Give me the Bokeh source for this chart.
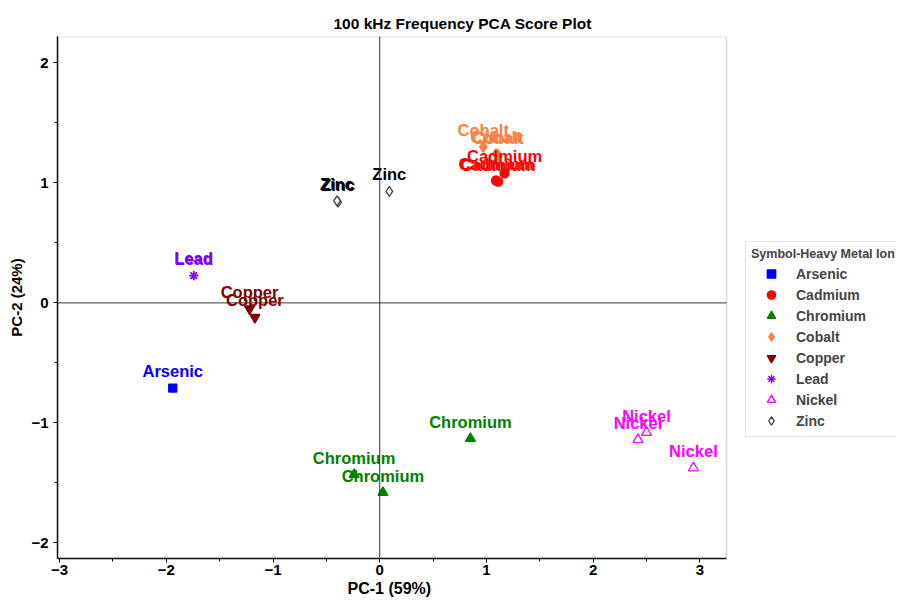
from bokeh.plotting import figure
from bokeh.models import (ColumnDataSource, Legend, LegendItem, Span, FixedTicker, Range1d,
                          BoxAnnotation, Title)
from bokeh.core.properties import value
from bokeh.embed import file_html
from bokeh.resources import INLINE

# ---- data (PC scores) ----
metals = ["Arsenic", "Cadmium", "Chromium", "Cobalt", "Copper", "Lead", "Nickel", "Zinc"]
arsenic_pc1 = [-1.94]
arsenic_pc2 = [-0.71]
cadmium_pc1 = [1.17, 1.09, 1.11]
cadmium_pc2 = [1.08, 1.02, 1.01]
chromium_pc1 = [0.85, -0.24, 0.03]
chromium_pc2 = [-1.13, -1.43, -1.58]
cobalt_pc1 = [0.97, 1.09, 1.11]
cobalt_pc2 = [1.30, 1.24, 1.23]
copper_pc1 = [-1.22, -1.17]
copper_pc2 = [-0.05, -0.12]
lead_pc1 = [-1.74, -1.745]
lead_pc2 = [0.225, 0.23]
nickel_pc1 = [2.42, 2.50, 2.94]
nickel_pc2 = [-1.14, -1.08, -1.375]
zinc_pc1 = [-0.39, -0.40, 0.09]
zinc_pc2 = [0.84, 0.85, 0.93]

x_ticks = [-3, -2, -1, 0, 1, 2, 3]
y_ticks = [-2, -1, 0, 1, 2]

pc1 = dict(Arsenic=arsenic_pc1, Cadmium=cadmium_pc1, Chromium=chromium_pc1, Cobalt=cobalt_pc1,
           Copper=copper_pc1, Lead=lead_pc1, Nickel=nickel_pc1, Zinc=zinc_pc1)
pc2 = dict(Arsenic=arsenic_pc2, Cadmium=cadmium_pc2, Chromium=chromium_pc2, Cobalt=cobalt_pc2,
           Copper=copper_pc2, Lead=lead_pc2, Nickel=nickel_pc2, Zinc=zinc_pc2)

style = {
    "Arsenic":  dict(marker="square", size=8, fill_color="#0000FF", line_color="#0000FF", text="#0000FF"),
    "Cadmium":  dict(marker="circle", size=9, fill_color="#FF0000", line_color="#FF0000", text="#FF0000"),
    "Chromium": dict(marker="triangle", size=10, fill_color="#008000", line_color="#008000", text="#008000"),
    "Cobalt":   dict(marker="diamond", size=11, fill_color="#FF8040", line_color="#FF8040", text="#FF8040"),
    "Copper":   dict(marker="inverted_triangle", size=10, fill_color="#800000", line_color="#800000", text="#800000"),
    "Lead":     dict(marker="asterisk", size=9, fill_color="#8000FF", line_color="#8000FF", text="#8000FF"),
    "Nickel":   dict(marker="triangle", size=10, fill_color="white", line_color="#FF00FF", text="#FF00FF"),
    "Zinc":     dict(marker="diamond", size=10, fill_color="white", line_color="#404040", text="#000000"),
}

FONT = "Liberation Sans"

# plotting box spans X_LO..X_HI; the frame is widened to the right to host the legend
X_LO, X_HI = -3.02, 3.25
Y_LO, Y_HI = -2.13, 2.22
BOX_PX, FRAME_PX = 669, 839
x_end = X_LO + (X_HI - X_LO) * FRAME_PX / BOX_PX

p = figure(width=896, height=597, x_range=Range1d(X_LO, x_end), y_range=Range1d(Y_LO, Y_HI),
           output_backend="svg", toolbar_location=None,
           min_border_left=57, min_border_right=0, min_border_top=36, min_border_bottom=39,
           background_fill_color="white", border_fill_color="white")

p.title.text = "100 kHz Frequency PCA Score Plot"
p.title.align = "left"
p.title.offset = 276
p.title.text_font = FONT
p.title.text_font_style = "bold"
p.title.text_font_size = "15.5px"
p.title.text_color = "black"
p.title.standoff = 9

p.xgrid.visible = False
p.ygrid.visible = False
p.outline_line_color = None

for ax in (p.xaxis[0], p.yaxis[0]):
    ax.axis_line_color = "black"
    ax.axis_line_width = 1.5
    ax.major_tick_line_color = "black"
    ax.minor_tick_line_color = "black"
    ax.major_tick_in = 0
    ax.major_tick_out = 4
    ax.minor_tick_in = 0
    ax.minor_tick_out = 3
    ax.major_label_text_font = FONT
    ax.major_label_text_font_style = "bold"
    ax.major_label_text_font_size = "15px"
    ax.major_label_text_color = "black"
    ax.axis_label_text_font = FONT
    ax.axis_label_text_font_style = "bold"
    ax.axis_label_text_color = "black"

p.xaxis.bounds = (X_LO, X_HI)
p.xaxis.ticker = FixedTicker(ticks=x_ticks,
                             minor_ticks=[t + 0.5 for t in x_ticks if t + 0.5 < X_HI])
p.yaxis.ticker = FixedTicker(ticks=y_ticks, minor_ticks=[t + 0.5 for t in y_ticks] + [-2.5])
p.yaxis.axis_label = "PC-2 (24%)"
p.yaxis.axis_label_text_font_size = "15px"
p.xaxis.major_label_standoff = 2
p.yaxis.major_label_standoff = 5
p.yaxis.axis_label_standoff = 3

xlabel = Title(text="PC-1 (59%)", align="left", offset=290, text_font=FONT,
               text_font_style="bold", text_font_size="16px", text_color="black", standoff=0)
p.add_layout(xlabel, "below")

# plot box border (top/right in grey) and the zero reference lines
p.add_layout(BoxAnnotation(left=X_LO, right=X_HI, fill_alpha=0, fill_color=None,
                           line_color="#808080", line_width=1.5))
p.add_layout(Span(location=0, dimension="height", line_color="#333333", line_width=1))
p.segment(x0=[X_LO], y0=[0], x1=[X_HI], y1=[0], line_color="#333333", line_width=1)

renderers = {}
sources = {}
for m in metals:
    st = style[m]
    src = ColumnDataSource(dict(x=pc1[m], y=pc2[m], label=[m] * len(pc1[m])))
    sources[m] = src
    renderers[m] = p.scatter("x", "y", source=src, marker=st["marker"], size=st["size"],
                             fill_color=st["fill_color"], line_color=st["line_color"],
                             line_width=1.3)

for m in metals:
    p.text("x", "y", text="label", source=sources[m], text_align="center",
           text_baseline="alphabetic", y_offset=-17, text_color=style[m]["text"],
           text_font=value(FONT), text_font_style="bold", text_font_size="16.5px")

legend = Legend(items=[LegendItem(label=m, renderers=[renderers[m]]) for m in metals],
                location=(688, 121), title="Symbol-Heavy Metal Ion",
                title_text_font=FONT, title_text_font_style="bold", title_text_font_size="12.5px",
                title_standoff=2,
                label_text_font=FONT, label_text_font_style="bold", label_text_font_size="14px",
                label_height=21, glyph_height=21, glyph_width=40, spacing=0, padding=5,
                label_standoff=5, label_width=150, margin=0,
                border_line_color="#C8C8C8", border_line_width=1.5,
                background_fill_color="white")
p.add_layout(legend, "center")

open("out.html", "w").write(file_html(p, INLINE))
